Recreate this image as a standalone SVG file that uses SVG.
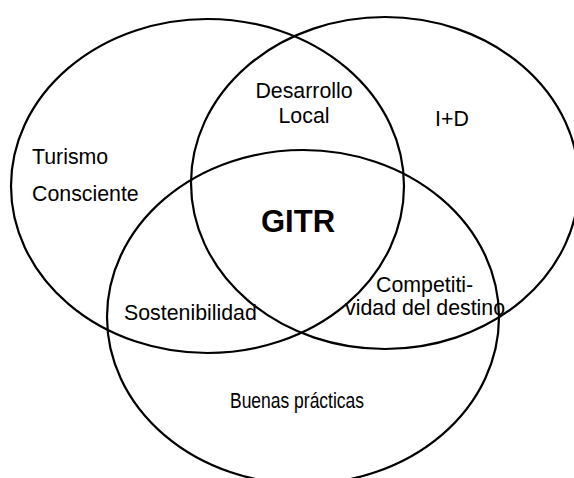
<svg xmlns="http://www.w3.org/2000/svg" width="574" height="478" viewBox="0 0 574 478">
<style>
.c{fill:none;stroke:#000;stroke-width:2.2}
.t{font-family:"Liberation Sans",Arial,sans-serif;font-size:21.33px;fill:#000}
.b{font-family:"Liberation Sans",Arial,sans-serif;font-size:31px;font-weight:bold;fill:#000}
</style>
<rect width="574" height="478" fill="#fff"/>
<g id="circles">
<g id="left"><ellipse class="c" cx="207.5" cy="186" rx="196.5" ry="167"/></g>
<g id="right"><ellipse class="c" cx="385" cy="183" rx="194" ry="166"/></g>
<g id="bottom"><ellipse class="c" cx="303" cy="317" rx="196" ry="167"/></g>
</g>
<g id="labels">
<text class="t" x="32" y="164">Turismo</text>
<text class="t" x="32" y="201">Consciente</text>
<text class="t" x="304" y="98" text-anchor="middle">Desarrollo</text>
<text class="t" x="304" y="123" text-anchor="middle">Local</text>
<text class="t" x="435" y="126">I+D</text>
<text class="b" x="298" y="232" text-anchor="middle">GITR</text>
<text class="t" x="124" y="320">Sostenibilidad</text>
<text class="t" x="376" y="292">Competiti-</text>
<text class="t" x="345" y="315">vidad del destino</text>
<text class="t" x="230" y="408" textLength="134" lengthAdjust="spacingAndGlyphs">Buenas prácticas</text>
</g>
</svg>
